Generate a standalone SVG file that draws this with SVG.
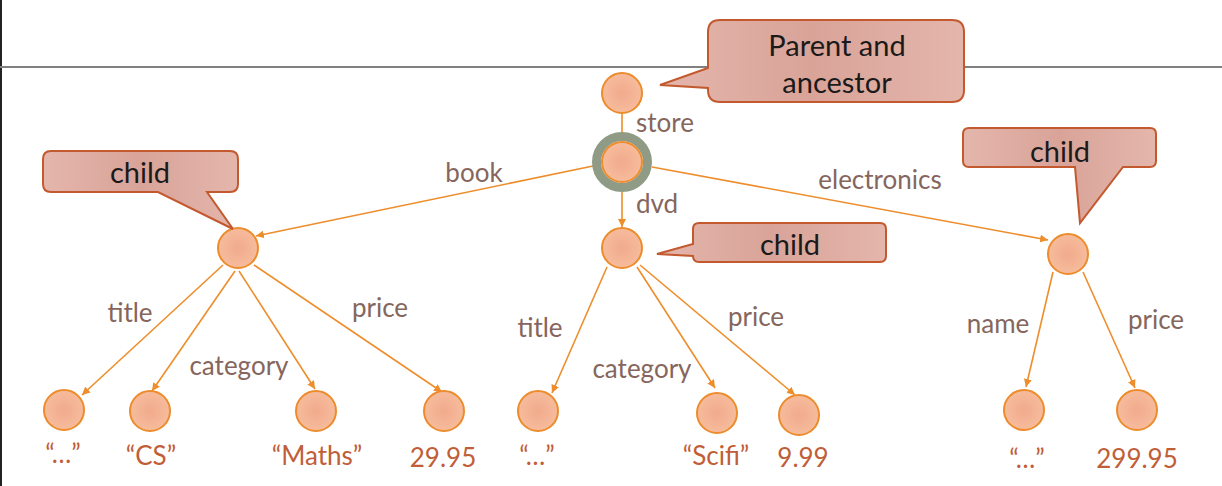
<svg xmlns="http://www.w3.org/2000/svg" width="1222" height="486" viewBox="0 0 1222 486">
<defs>
<style>
.node{fill:url(#nodeGrad);stroke:#ec8c2c;stroke-width:2}
.edge{stroke:#ee8d2b;stroke-width:1.6;fill:none;marker-end:url(#arrow)}
.elabel{font-family:Lato,"Open Sans",sans-serif;font-size:26px;fill:#86665c;text-anchor:middle}
.leaf{font-family:Lato,"Open Sans",sans-serif;font-size:26px;fill:#c05e38;text-anchor:middle}
.callout{fill:url(#callGrad);stroke:#c3592e;stroke-width:2}
.ctext{font-family:Lato,"Open Sans",sans-serif;font-size:29px;fill:#1a1a1a;text-anchor:middle}
</style>
<radialGradient id="nodeGrad" cx="0.5" cy="0.5" r="0.5">
<stop offset="0" stop-color="#f1aa8c"/>
<stop offset="1" stop-color="#f6bc9c"/>
</radialGradient>
<linearGradient id="callGrad" x1="0" y1="0" x2="1" y2="0">
<stop offset="0" stop-color="#e4b6ac"/>
<stop offset="0.5" stop-color="#d9a398"/>
<stop offset="1" stop-color="#e4b6ac"/>
</linearGradient>
<marker id="arrow" markerUnits="userSpaceOnUse" markerWidth="9" markerHeight="8" refX="8" refY="4" orient="auto">
<path d="M0,0 L8,4 L0,8 z" fill="#ee8d2b"/>
</marker>
</defs>
<rect x="0" y="0" width="1222" height="486" fill="#ffffff"/>
<line x1="1" y1="0" x2="1" y2="486" stroke="#222222" stroke-width="2"/>
<line x1="0" y1="67" x2="1222" y2="67" stroke="#808080" stroke-width="2"/>

<g id="connectors">
<line x1="622" y1="113" x2="622" y2="136" stroke="#ee8d2b" stroke-width="1.6"/>
<line class="edge" x1="593" y1="166" x2="256" y2="236"/>
<line class="edge" x1="622" y1="192" x2="622" y2="227"/>
<line class="edge" x1="652" y1="167" x2="1048" y2="240"/>
<line class="edge" x1="223" y1="265" x2="82" y2="395"/>
<line class="edge" x1="235" y1="271" x2="152" y2="391"/>
<line class="edge" x1="239" y1="271" x2="315" y2="389"/>
<line class="edge" x1="254" y1="265" x2="442" y2="392"/>
<line class="edge" x1="607" y1="267" x2="552" y2="393"/>
<line class="edge" x1="637" y1="267" x2="715" y2="388"/>
<line class="edge" x1="640" y1="265" x2="795" y2="395"/>
<line class="edge" x1="1053" y1="272" x2="1026" y2="387"/>
<line class="edge" x1="1083" y1="272" x2="1135" y2="388"/>
<text class="elabel" x="665" y="132">store</text>
<text class="elabel" x="657" y="213">dvd</text>
<text class="elabel" x="880" y="189">electronics</text>
<text class="elabel" x="474" y="182">book</text>
<text class="elabel" x="130" y="322">title</text>
<text class="elabel" x="239" y="375">category</text>
<text class="elabel" x="380" y="317">price</text>
<text class="elabel" x="540" y="337">title</text>
<text class="elabel" x="642" y="378">category</text>
<text class="elabel" x="756" y="326">price</text>
<text class="elabel" x="998" y="333">name</text>
<text class="elabel" x="1156" y="329">price</text>
</g>

<g id="root"><circle class="node" cx="622" cy="93" r="20"/></g>
<g id="store">
<circle cx="622" cy="162" r="25.5" fill="none" stroke="#8f9b84" stroke-width="9"/>
<circle class="node" cx="622" cy="162" r="20"/>
</g>
<g id="book"><circle class="node" cx="238" cy="248" r="20"/></g>
<g id="dvd"><circle class="node" cx="622" cy="248" r="20"/></g>
<g id="electronics"><circle class="node" cx="1068" cy="254" r="20"/></g>

<g id="book-title"><circle class="node" cx="64" cy="410" r="20"/><text class="leaf" x="63" y="463">“…”</text></g>
<g id="book-category"><circle class="node" cx="150" cy="411" r="20"/><text class="leaf" x="151" y="465">“CS”</text></g>
<g id="book-category2"><circle class="node" cx="316" cy="411" r="20"/><text class="leaf" x="317" y="465">“Maths”</text></g>
<g id="book-price"><circle class="node" cx="444" cy="411" r="20"/><text class="leaf" x="443" y="467">29.95</text></g>
<g id="dvd-title"><circle class="node" cx="538" cy="411" r="20"/><text class="leaf" x="537" y="465">“…”</text></g>
<g id="dvd-category"><circle class="node" cx="717" cy="413" r="20"/><text class="leaf" x="716" y="465">“Scifi”</text></g>
<g id="dvd-price"><circle class="node" cx="799" cy="415" r="20"/><text class="leaf" x="803" y="467">9.99</text></g>
<g id="elec-name"><circle class="node" cx="1024" cy="410" r="20"/><text class="leaf" x="1027" y="468">“…”</text></g>
<g id="elec-price"><circle class="node" cx="1137" cy="410" r="20"/><text class="leaf" x="1137" y="468">299.95</text></g>

<g id="callout-parent">
<path class="callout" d="M720,20 H952 Q964,20 964,32 V90 Q964,102 952,102 H720 Q708,102 708,90 V88 L660,85 L708,68 V32 Q708,20 720,20 Z"/>
<text class="ctext" x="837" y="56">Parent and</text>
<text class="ctext" x="837" y="93">ancestor</text>
</g>
<g id="callout-child-left">
<path class="callout" d="M51,151 H230 Q238,151 238,159 V184 Q238,192 230,192 H207 L233,229 L158,192 H51 Q43,192 43,184 V159 Q43,151 51,151 Z"/>
<text class="ctext" x="140" y="183">child</text>
</g>
<g id="callout-child-mid">
<path class="callout" d="M699,223 H880 Q886,223 886,229 V256 Q886,262 880,262 H699 Q693,262 693,256 L657,254 L693,244 V229 Q693,223 699,223 Z"/>
<text class="ctext" x="790" y="255">child</text>
</g>
<g id="callout-child-right">
<path class="callout" d="M969,128 H1150 Q1156,128 1156,134 V161 Q1156,167 1150,167 H1123 L1080,223 L1075,167 H969 Q963,167 963,161 V134 Q963,128 969,128 Z"/>
<text class="ctext" x="1060" y="162">child</text>
</g>
</svg>
